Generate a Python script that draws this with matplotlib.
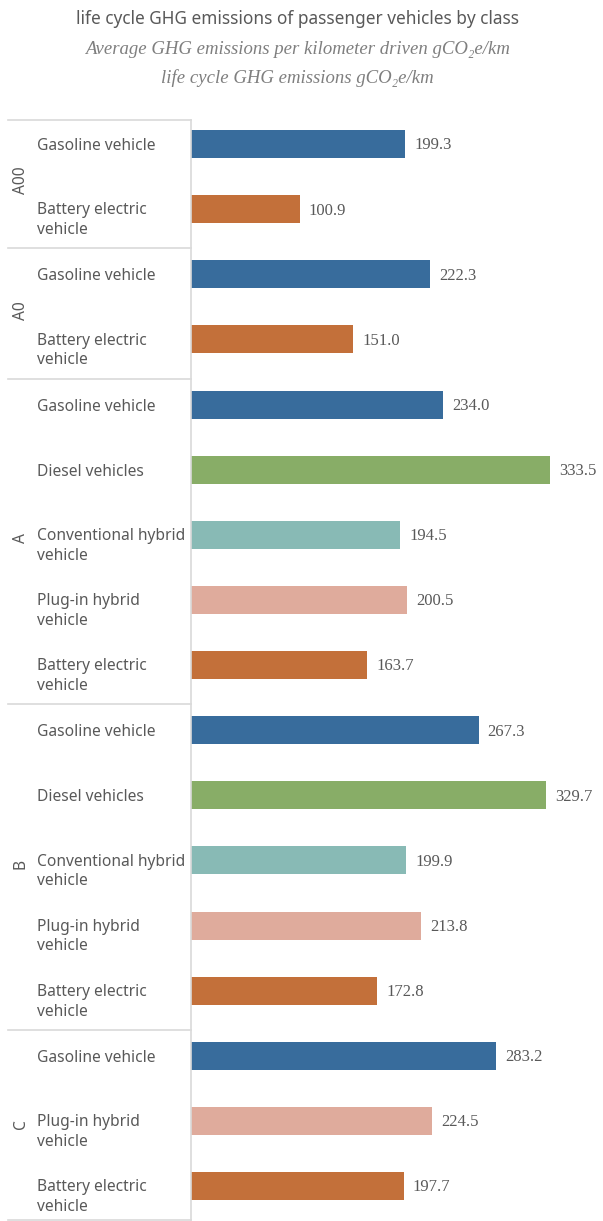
import matplotlib.pyplot as plt
import matplotlib.transforms as mtransforms

# chart data
groups = ["A00", "A0", "A", "B", "C"]
group_items = [
    ["Gasoline vehicle", "Battery electric vehicle"],
    ["Gasoline vehicle", "Battery electric vehicle"],
    ["Gasoline vehicle", "Diesel vehicles", "Conventional hybrid vehicle",
     "Plug-in hybrid vehicle", "Battery electric vehicle"],
    ["Gasoline vehicle", "Diesel vehicles", "Conventional hybrid vehicle",
     "Plug-in hybrid vehicle", "Battery electric vehicle"],
    ["Gasoline vehicle", "Plug-in hybrid vehicle", "Battery electric vehicle"],
]
group_values = [
    [199.3, 100.9],
    [222.3, 151.0],
    [234.0, 333.5, 194.5, 200.5, 163.7],
    [267.3, 329.7, 199.9, 213.8, 172.8],
    [283.2, 224.5, 197.7],
]

colors = {
    "Gasoline vehicle": "#386C9C",
    "Battery electric vehicle": "#C3703A",
    "Diesel vehicles": "#88AD67",
    "Conventional hybrid vehicle": "#88BAB5",
    "Plug-in hybrid vehicle": "#DFAB9C",
}
wrapped = {
    "Battery electric vehicle": "Battery electric\nvehicle",
    "Plug-in hybrid vehicle": "Plug-in hybrid\nvehicle",
    "Conventional hybrid vehicle": "Conventional hybrid\nvehicle",
}

label_col = "#595959"
sans = ["Noto Sans", "DejaVu Sans"]
serif = ["Liberation Serif", "DejaVu Serif"]

fig = plt.figure(figsize=(6.03, 12.21), dpi=100)
ax = fig.add_axes([191 / 603, 1 - 1220 / 1221, 412 / 603, 1100 / 1221])
trans = mtransforms.blended_transform_factory(ax.transAxes, ax.transData)

row = 0
group_mid = []
separators = []
for g, items, vals in zip(groups, group_items, group_values):
    start = row
    for name, v in zip(items, vals):
        ax.barh(row, v, height=0.43, color=colors[name])
        ax.text(v + 8.5, row + 0.02, f"{v:.1f}", va="center", ha="left",
                fontsize=12, family=serif, color=label_col)
        txt = wrapped.get(name, name)
        off = 0.17 if "\n" in txt else 0.03
        ax.text((37 - 191) / 412, row + off, txt, transform=trans,
                va="center", ha="left", fontsize=11.2, family=sans,
                weight="light", color=label_col, linespacing=1.3)
        row += 1
    group_mid.append((start + row - 1) / 2)
    separators.append(row - 1 + 0.6)

ax.set_xlim(0, 383)
ax.set_ylim(16.52, -0.37)

for g, m in zip(groups, group_mid):
    ax.text((21 - 191) / 412, m + 0.05, g, transform=trans, rotation=90,
            va="center", ha="center", fontsize=11.2, family=sans,
            weight="light", color=label_col)

sep_y = [-0.37] + separators[:-1] + [16.52]
for y in sep_y:
    ax.plot([(8 - 191) / 412, 0], [y, y], transform=trans, color="#D9D9D9",
            lw=1.2, clip_on=False)

for s in ["top", "right", "bottom"]:
    ax.spines[s].set_visible(False)
ax.spines["left"].set_color("#D9D9D9")
ax.spines["left"].set_linewidth(1.2)
ax.set_xticks([])
ax.set_yticks([])

fig.text(298 / 603, 1 - 19 / 1221, "life cycle GHG emissions of passenger vehicles by class",
         ha="center", va="center", fontsize=12.4, family=sans, weight="light",
         color=label_col)
fig.text(297 / 603, 1 - 49 / 1221, "Average GHG emissions per kilometer driven gCO₂e/km",
         ha="center", va="center", fontsize=13.5, family=serif, style="italic",
         color="#7F7F7F")
fig.text(297 / 603, 1 - 78 / 1221, "life cycle GHG emissions gCO₂e/km",
         ha="center", va="center", fontsize=13.5, family=serif, style="italic",
         color="#7F7F7F")

fig.savefig("out.png", dpi=100)
